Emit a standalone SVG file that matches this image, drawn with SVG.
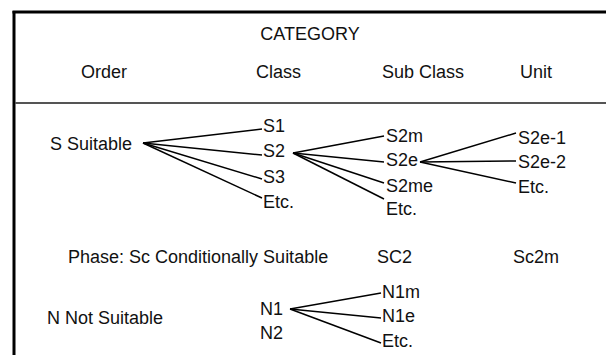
<svg xmlns="http://www.w3.org/2000/svg" width="606" height="355" viewBox="0 0 606 355">
<style>
text{font-family:"Liberation Sans",Arial,sans-serif;font-size:18px;fill:#111}
.c line{stroke:#000;stroke-width:1.5}
.frame{stroke:#000;stroke-width:3;fill:none}
.div{stroke:#555;stroke-width:2}
</style>
<rect width="606" height="355" fill="#fff"/>
<g id="frame">
<line class="frame" x1="12.5" y1="12" x2="606" y2="12"/>
<line class="frame" x1="14" y1="11" x2="14" y2="355"/>
<line class="div" x1="15" y1="103" x2="606" y2="103"/>
</g>
<g id="header">
<text x="310" y="40" text-anchor="middle">CATEGORY</text>
<text x="81" y="78">Order</text>
<text x="256" y="78">Class</text>
<text x="382" y="78">Sub Class</text>
<text x="520" y="78">Unit</text>
</g>
<g id="s-suitable"><text x="50" y="150">S Suitable</text></g>
<g id="s1"><text x="263" y="132">S1</text></g>
<g id="s2"><text x="263" y="157">S2</text></g>
<g id="s3"><text x="263" y="183">S3</text></g>
<g id="s-etc"><text x="263" y="208">Etc.</text></g>
<g id="s2m"><text x="386" y="142">S2m</text></g>
<g id="s2e"><text x="386" y="166">S2e</text></g>
<g id="s2me"><text x="386" y="192">S2me</text></g>
<g id="s2-etc"><text x="386" y="215">Etc.</text></g>
<g id="s2e-1"><text x="518" y="144">S2e-1</text></g>
<g id="s2e-2"><text x="518" y="168">S2e-2</text></g>
<g id="s2e-etc"><text x="518" y="193">Etc.</text></g>
<g id="phase"><text x="68" y="263">Phase: Sc Conditionally Suitable</text></g>
<g id="sc2"><text x="377" y="263">SC2</text></g>
<g id="sc2m"><text x="513" y="263">Sc2m</text></g>
<g id="n-not-suitable"><text x="47" y="324">N Not Suitable</text></g>
<g id="n1"><text x="260" y="315">N1</text></g>
<g id="n2"><text x="260" y="339">N2</text></g>
<g id="n1m"><text x="382" y="298">N1m</text></g>
<g id="n1e"><text x="382" y="322">N1e</text></g>
<g id="n1-etc"><text x="382" y="347">Etc.</text></g>
<g id="connectors" class="c">
<line x1="143" y1="143" x2="262" y2="129"/>
<line x1="143" y1="143" x2="262" y2="155"/>
<line x1="143" y1="143" x2="262" y2="179"/>
<line x1="143" y1="143" x2="262" y2="198"/>
<line x1="293" y1="153" x2="384" y2="136"/>
<line x1="293" y1="153" x2="384" y2="162"/>
<line x1="293" y1="153" x2="384" y2="183"/>
<line x1="293" y1="153" x2="384" y2="199"/>
<line x1="420" y1="162" x2="516" y2="133"/>
<line x1="420" y1="162" x2="516" y2="161"/>
<line x1="420" y1="162" x2="516" y2="183"/>
<line x1="290" y1="309" x2="381" y2="293"/>
<line x1="290" y1="309" x2="381" y2="318"/>
<line x1="290" y1="309" x2="381" y2="343"/>
</g>
</svg>
